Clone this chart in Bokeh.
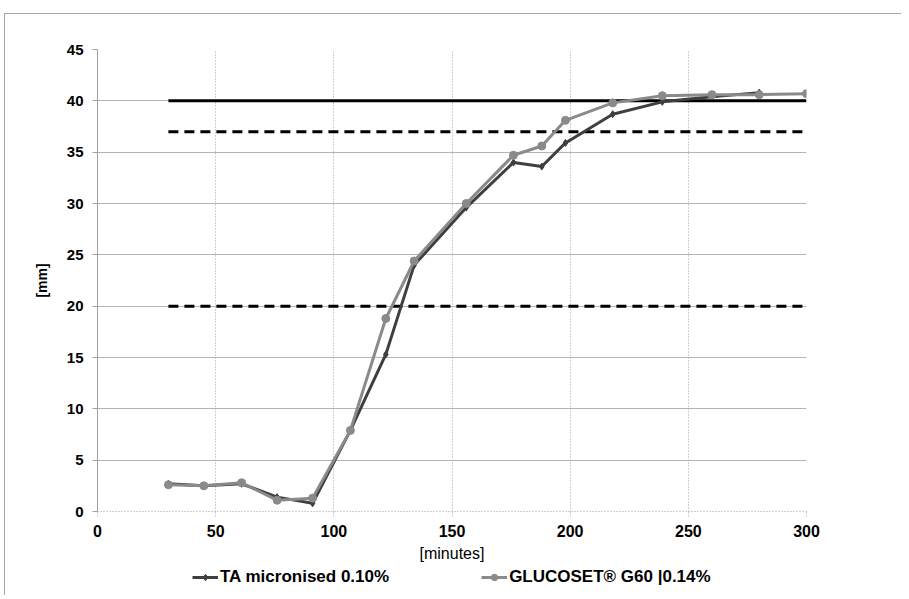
from bokeh.plotting import figure
from bokeh.layouts import column
from bokeh.models import Range1d, Legend, LegendItem, FixedTicker, ColumnDataSource
from bokeh.embed import file_html
from bokeh.resources import INLINE

# --- data ---
times_ta = [30, 45, 61, 76, 91, 107, 122, 134, 156, 176, 188, 198, 218, 239, 260, 280]
ta_micronised = [2.7, 2.5, 2.7, 1.4, 0.8, 7.9, 15.3, 24.0, 29.6, 34.0, 33.6, 35.9, 38.7, 39.9, 40.4, 40.8]
times_gl = [30, 45, 61, 76, 91, 107, 122, 134, 156, 176, 188, 198, 218, 239, 260, 280, 300]
glucoset = [2.6, 2.5, 2.8, 1.1, 1.3, 7.9, 18.8, 24.4, 30.0, 34.7, 35.6, 38.1, 39.8, 40.5, 40.6, 40.6, 40.7]
series_names = ["TA micronised 0.10%", "GLUCOSET\u00ae G60 |0.14%"]
ref_x = [30, 300]
ref_solid = 40
ref_dashed = [37, 20]
x_ticks = [0, 50, 100, 150, 200, 250, 300]
y_ticks = [0, 5, 10, 15, 20, 25, 30, 35, 40, 45]

FONT = "Liberation Sans"
BORDER = "1px solid #a6a6a6"

p = figure(output_backend="svg", toolbar_location=None,
           x_range=Range1d(0, 300), y_range=Range1d(0, 45),
           frame_width=708, frame_height=461,
           min_border_left=92, min_border_top=35, min_border_right=96, min_border_bottom=55)
p.margin = (13, 0, 0, 4)
p.styles = {"border-left": BORDER, "border-top": BORDER}
p.outline_line_color = None
p.background_fill_color = "white"
p.border_fill_color = "white"

# grid
p.xgrid.ticker = FixedTicker(ticks=x_ticks)
p.ygrid.ticker = FixedTicker(ticks=y_ticks)
p.xgrid.grid_line_color = "#a0a0a0"
p.xgrid.grid_line_dash = "1 2"
p.xgrid.grid_line_width = 1
p.ygrid.grid_line_color = "#b4b4b4"
p.ygrid.grid_line_width = 1

# axes
for ax in (p.xaxis[0], p.yaxis[0]):
    ax.major_label_text_font = FONT
    ax.major_label_text_font_style = "bold"
    ax.major_label_text_font_size = "15px"
    ax.major_label_text_color = "black"
    ax.axis_line_color = "#a0a0a0"
    ax.major_tick_line_color = "#a0a0a0"
    ax.major_tick_out = 5
    ax.major_tick_in = 0
    ax.minor_tick_line_color = None
    ax.axis_label_text_font = FONT
    ax.axis_label_text_color = "black"

p.xaxis[0].ticker = FixedTicker(ticks=x_ticks)
p.yaxis[0].ticker = FixedTicker(ticks=y_ticks)
p.xaxis[0].major_label_text_font_size = "16px"
p.xaxis[0].axis_line_dash = "1 2"
p.xaxis[0].major_tick_line_dash = "1 2"
p.xaxis[0].major_label_standoff = 8
p.yaxis[0].major_label_standoff = 9

p.xaxis[0].axis_label = "[minutes]"
p.xaxis[0].axis_label_text_font_size = "16px"
p.xaxis[0].axis_label_text_font_style = "normal"
p.xaxis[0].axis_label_standoff = 5
p.yaxis[0].axis_label = "[mm]"
p.yaxis[0].axis_label_text_font_size = "14px"
p.yaxis[0].axis_label_text_font_style = "bold"
p.yaxis[0].axis_label_standoff = 14

# reference lines
p.line(ref_x, [ref_solid, ref_solid], line_color="black", line_width=3)
for v in ref_dashed:
    p.line(ref_x, [v, v], line_color="black", line_width=3, line_dash="10 6")

# series
dark = "#3f3f3f"
gray = "#8a8a8a"
src_ta = ColumnDataSource(dict(x=times_ta, y=ta_micronised))
src_gl = ColumnDataSource(dict(x=times_gl, y=glucoset))
p.line("x", "y", source=src_ta, line_color=dark, line_width=3)
p.scatter("x", "y", source=src_ta, marker="diamond", size=7, color=dark)
p.line("x", "y", source=src_gl, line_color=gray, line_width=3)
p.scatter("x", "y", source=src_gl, marker="circle", size=8, color=gray)

# legend strip below the chart (same sources; data lies outside this strip's ranges)
p2 = figure(output_backend="svg", toolbar_location=None, width=900, height=30,
            x_range=Range1d(0, 1), y_range=Range1d(0, 1),
            x_axis_location=None, y_axis_location=None,
            min_border=0)
p2.margin = (0, 0, 0, 4)
p2.styles = {"border-left": BORDER}
p2.outline_line_color = None
p2.grid.visible = False
p2.border_fill_color = "white"
k1 = p2.line("x", "y", source=src_ta, line_color=dark, line_width=3)
k1m = p2.scatter("x", "y", source=src_ta, marker="diamond", size=7, color=dark)
k2 = p2.line("x", "y", source=src_gl, line_color=gray, line_width=3)
k2m = p2.scatter("x", "y", source=src_gl, marker="circle", size=8, color=gray)

legend = Legend(items=[LegendItem(label=series_names[0], renderers=[k1, k1m]),
                       LegendItem(label=series_names[1], renderers=[k2, k2m])],
                location=(95, 8), orientation="horizontal",
                glyph_width=26, glyph_height=16, label_height=16, label_standoff=2,
                spacing=92, padding=0, margin=0,
                label_text_font=FONT, label_text_font_style="bold",
                label_text_font_size="17px", label_text_color="black",
                border_line_color=None, background_fill_alpha=0)
p2.add_layout(legend, "center")

layout = column(p, p2, spacing=0)
open("out.html", "w").write(file_html(layout, INLINE))
